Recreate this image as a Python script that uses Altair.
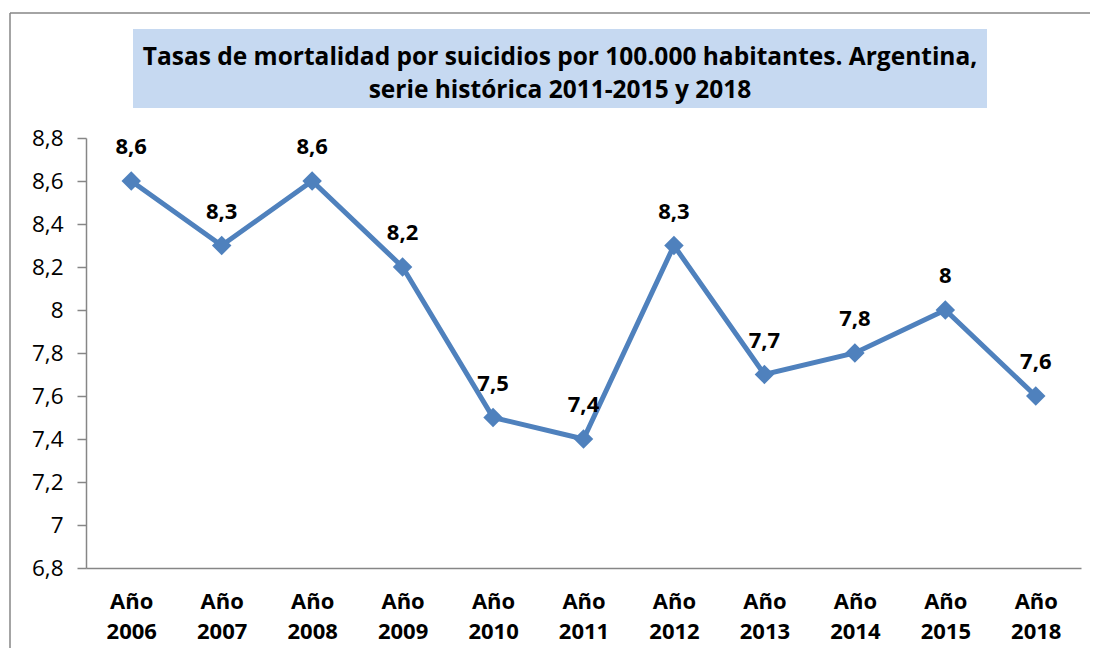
import altair as alt
import pandas as pd

years = ["Año 2006", "Año 2007", "Año 2008", "Año 2009", "Año 2010", "Año 2011",
         "Año 2012", "Año 2013", "Año 2014", "Año 2015", "Año 2018"]
rates = [8.6, 8.3, 8.6, 8.2, 7.5, 7.4, 8.3, 7.7, 7.8, 8.0, 7.6]
y_ticks = [6.8, 7.0, 7.2, 7.4, 7.6, 7.8, 8.0, 8.2, 8.4, 8.6, 8.8]
title_line1 = "Tasas de mortalidad por suicidios por 100.000 habitantes. Argentina,"
title_line2 = "serie histórica 2011-2015 y 2018"

FONT = "Open Sans"
BLUE = "#4F81BD"
GRAY = "#868686"

df = pd.DataFrame({"year": years, "rate": rates})

x_enc = alt.X("year:O", sort=years, title=None,
              scale=alt.Scale(type="point", padding=0.5),
              axis=alt.Axis(labelAngle=0, labelExpr="split(datum.value, ' ')",
                            labelFont=FONT, labelFontSize=22, labelFontWeight="bold",
                            labelColor="black", labelLineHeight=30, labelPadding=23,
                            labelBaseline="top",
                            ticks=False, domainColor=GRAY, domainWidth=1.5, grid=False))
y_enc = alt.Y("rate:Q", title=None,
              scale=alt.Scale(domain=[6.8, 8.8], nice=False, zero=False),
              axis=alt.Axis(values=y_ticks,
                            labelExpr="replace(format(datum.value, '.1~f'), '.', ',')",
                            labelFont=FONT, labelFontSize=22.5, labelColor="black",
                            labelPadding=14, tickSize=9, tickColor=GRAY, tickWidth=1.5,
                            domainColor=GRAY, domainWidth=1.5, grid=False))

base = alt.Chart(df).encode(x=x_enc, y=y_enc)

line = base.mark_line(color=BLUE, strokeWidth=5)
points = base.mark_point(shape="diamond", filled=True, size=380, color=BLUE, opacity=1)
labels = base.transform_calculate(
    label="replace(format(datum.rate, '.1~f'), '.', ',')"
).mark_text(font=FONT, fontSize=22, fontWeight="bold", color="black", dy=-34).encode(
    text="label:N")

one = alt.Data(values=[{}])
title_box = alt.Chart(one).mark_rect(color="#C6D9F1").encode(
    x=alt.value(47), x2=alt.value(901), y=alt.value(-109), y2=alt.value(-30))
title_t1 = alt.Chart(one).mark_text(
    font=FONT, fontSize=24.5, fontWeight="bold", color="black", align="center",
    baseline="alphabetic").encode(
    x=alt.value(474), y=alt.value(-73), text=alt.value(title_line1))
title_t2 = alt.Chart(one).mark_text(
    font=FONT, fontSize=24.5, fontWeight="bold", color="black", align="center",
    baseline="alphabetic").encode(
    x=alt.value(474), y=alt.value(-40), text=alt.value(title_line2))

border_left = alt.Chart(one).mark_rule(color=GRAY, strokeWidth=1.5).encode(
    x=alt.value(-76), y=alt.value(-125), y2=alt.value(530))
border_top = alt.Chart(one).mark_rule(color=GRAY, strokeWidth=1.5).encode(
    x=alt.value(-76), x2=alt.value(1020), y=alt.value(-125))

chart = alt.layer(border_left, border_top, title_box, title_t1, title_t2,
                  line, points, labels).properties(
    width=995, height=430,
    padding={"left": 78, "top": 130, "right": 9, "bottom": 80},
    autosize=alt.AutoSizeParams(type="none"),
    background="white",
).configure_view(stroke="transparent", strokeWidth=0)

chart.save("out.html", embed_options={"renderer": "svg", "actions": False})
